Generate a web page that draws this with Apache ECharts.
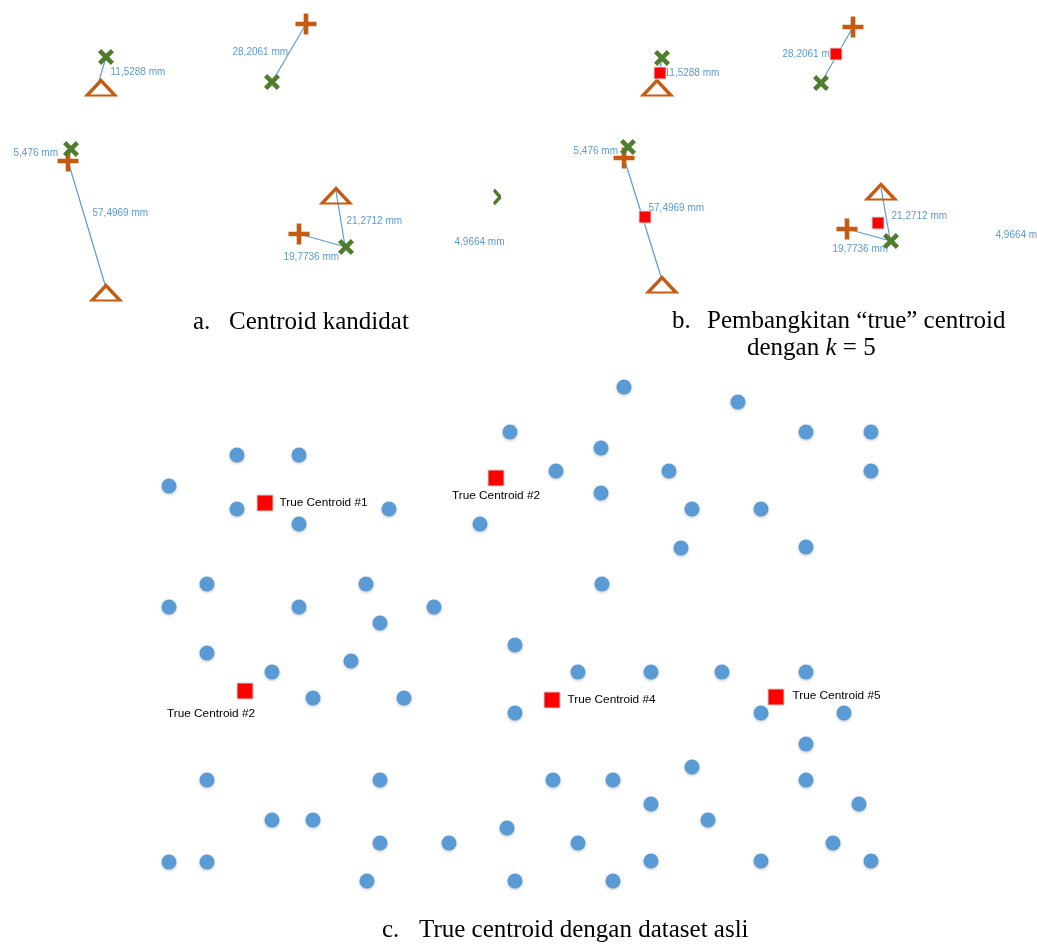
<!DOCTYPE html>
<html>
<head>
<meta charset="utf-8">
<script src="https://cdn.jsdelivr.net/npm/echarts@6/dist/echarts.min.js"></script>
<style>
html,body{margin:0;padding:0;background:#fff;}
#chart{width:1037px;height:951px;}
</style>
</head>
<body>
<div id="chart"></div>
<script>
// ---------- Panel a: candidate centroids ----------
const aCrossX   = [[106,57],[272,82],[71,149],[346,247]];
const aPlus     = [[306,24],[68,161],[299,234]];
const aTriangle = [[101,88],[106,293],[336,196]];
const aHalfX    = [[497,197]];
const aLinks    = [[106,57,99,81],[306,24,272,82],[71,149,68,161],[68,161,106,288],[336,191,345,246],[299,234,346,247]];
const aDistText = ['11,5288 mm','28,2061 mm','5,476 mm','57,4969 mm','21,2712 mm','19,7736 mm','4,9664 mm'];
const aDistAt   = [[110,72],[232,52],[13,153],[92,213],[346,221],[283,257],[454,242]];

// ---------- Panel b: generated "true" centroids (k = 5) ----------
const bCrossX   = [[142,58],[301,83],[108,147],[371,241]];
const bPlus     = [[333,27],[104,158],[327,229]];
const bTriangle = [[137,88],[142,285],[361,192]];
const bTrue     = [[140,73],[316,54],[125,217],[358,223]];
const bLinks    = [[142,58,137,81],[333,27,301,83],[108,147,104,158],[104,158,142,280],[361,188,370,239],[327,229,371,241]];
const bDistText = ['11,5288 mm','28,2061 mm','5,476 mm','57,4969 mm','21,2712 mm','19,7736 mm','4,9664 mm'];
const bDistAt   = [[144,73],[262,54],[53,151],[128,208],[371,216],[312,249],[475,235]];

// ---------- Panel c: true centroids with original dataset ----------
const cDataset = [
  [474,17],[588,32],[360,62],[656,62],[721,62],[451,78],[87,85],[149,85],[406,101],[519,101],
  [721,101],[19,116],[451,123],[87,139],[239,139],[542,139],[611,139],[149,154],[330,154],[531,178],
  [656,177],[57,214],[216,214],[452,214],[19,237],[149,237],[284,237],[230,253],[365,275],[57,283],
  [201,291],[122,302],[428,302],[501,302],[572,302],[656,302],[163,328],[254,328],[365,343],[611,343],
  [694,343],[656,374],[542,397],[57,410],[230,410],[403,410],[463,410],[656,410],[501,434],[709,434],
  [122,450],[163,450],[558,450],[357,458],[230,473],[299,473],[428,473],[683,473],[19,492],[57,492],
  [501,491],[611,491],[721,491],[217,511],[365,511],[463,511]
];
const cTrue      = [[115,133],[346,108],[95,321],[402,330],[626,327]];
const cTrueNames = ['True Centroid #1','True Centroid #2','True Centroid #2','True Centroid #4','True Centroid #5'];

// ---------- captions ----------
const captionA  = ['a.', 'Centroid kandidat'];
const captionB1 = ['b.', 'Pembangkitan \u201ctrue\u201d centroid'];
const captionB2 = 'dengan {i|k} = 5';
const captionC  = ['c.', 'True centroid dengan dataset asli'];

// ---------- styling ----------
const ORANGE = '#C55A11', GREEN = '#4E7D2E', BLUE = '#5B9BD5';
const SYM_X = 'path://M2,0 L5,3 L8,0 L10,2 L7,5 L10,8 L8,10 L5,7 L2,10 L0,8 L3,5 L0,2 Z';
const SYM_PLUS = 'path://M3.9,0 L6.1,0 L6.1,3.9 L10,3.9 L10,6.1 L6.1,6.1 L6.1,10 L3.9,10 L3.9,6.1 L0,6.1 L0,3.9 L3.9,3.9 Z';
const SYM_HALFX = 'path://M0,1.8 L2.2,0 L10,4 L10,6 L2.2,10 L0,8.2 L6,5 Z';

const series = [];
function idx(i){ return {xAxisIndex:i, yAxisIndex:i}; }

function addCandidatePanel(i, crossX, plus, tri, links, texts, at) {
  series.push(Object.assign({
    type:'lines', coordinateSystem:'cartesian2d', z:1, silent:true,
    lineStyle:{color:BLUE, width:1.2, opacity:1, curveness:0},
    data: links.map(s => ({coords:[[s[0],s[1]],[s[2],s[3]]]}))
  }, idx(i)));
  series.push(Object.assign({
    type:'scatter', z:2, silent:true, symbolSize:1,
    itemStyle:{color:'rgba(0,0,0,0)', opacity:1},
    label:{show:true, position:'right', distance:0, color:BLUE, fontSize:10,
           fontFamily:'Liberation Sans, Arial, sans-serif',
           formatter: p => texts[p.dataIndex]},
    data: at
  }, idx(i)));
  series.push(Object.assign({
    type:'scatter', z:3, silent:true, symbol:'triangle', symbolSize:[28,15],
    itemStyle:{color:'rgba(255,255,255,0)', borderColor:ORANGE, borderWidth:3, opacity:1},
    data: tri
  }, idx(i)));
  series.push(Object.assign({
    type:'scatter', z:4, silent:true, symbol:SYM_PLUS, symbolSize:[21,21],
    itemStyle:{color:ORANGE, opacity:1}, data: plus
  }, idx(i)));
  series.push(Object.assign({
    type:'scatter', z:5, silent:true, symbol:SYM_X, symbolSize:[16,16],
    itemStyle:{color:GREEN, opacity:1}, data: crossX
  }, idx(i)));
}

addCandidatePanel(0, aCrossX, aPlus, aTriangle, aLinks, aDistText, aDistAt);
series.push(Object.assign({
  type:'scatter', z:5, silent:true, symbol:SYM_HALFX, symbolSize:[8,17],
  itemStyle:{color:GREEN, opacity:1}, data:aHalfX
}, idx(0)));

addCandidatePanel(1, bCrossX, bPlus, bTriangle, bLinks, bDistText, bDistAt);
series.push(Object.assign({
  type:'scatter', z:6, silent:true, symbol:'rect', symbolSize:12,
  itemStyle:{color:'#FF0000', borderColor:'#d8d8d8', borderWidth:1, opacity:1}, data:bTrue
}, idx(1)));

series.push(Object.assign({
  type:'scatter', z:2, silent:true, symbol:'circle', symbolSize:15,
  itemStyle:{color:BLUE, opacity:1, shadowBlur:3, shadowColor:'rgba(0,0,0,0.25)', shadowOffsetY:1},
  data:cDataset
}, idx(2)));

const cLabelPlacement = [
  {position:'right', distance:6},
  {position:'bottom', distance:3},
  {position:'bottom', distance:8, offset:[-34,0]},
  {position:'right', distance:7},
  {position:'right', distance:8, offset:[0,-1]}
];
series.push(Object.assign({
  type:'scatter', z:3, silent:true, symbol:'rect', symbolSize:16,
  itemStyle:{color:'#FF0000', borderColor:'#cfcfcf', borderWidth:1, opacity:1},
  label:{show:true, color:'#000', fontSize:11.8, fontFamily:'Liberation Sans, Arial, sans-serif'},
  data: cTrue.map((v,k) => ({value:v, name:cTrueNames[k],
        label: Object.assign({formatter:cTrueNames[k]}, cLabelPlacement[k])}))
}, idx(2)));

const serif = '"Liberation Serif", "Times New Roman", serif';
function capText(x, y, text, extra) {
  return {type:'text', x:x, y:y, silent:true,
    style:Object.assign({text:text, fill:'#000', fontSize:25, fontFamily:serif, verticalAlign:'middle', align:'left'}, extra||{})};
}

const option = {
  animation:false,
  backgroundColor:'#fff',
  grid:[
    {left:0,   top:0,   width:501, height:305},
    {left:520, top:0,   width:517, height:305},
    {left:150, top:370, width:740, height:525}
  ],
  xAxis:[
    {type:'value', gridIndex:0, min:0, max:501, show:false},
    {type:'value', gridIndex:1, min:0, max:517, show:false},
    {type:'value', gridIndex:2, min:0, max:740, show:false}
  ],
  yAxis:[
    {type:'value', gridIndex:0, min:0, max:305, inverse:true, show:false},
    {type:'value', gridIndex:1, min:0, max:305, inverse:true, show:false},
    {type:'value', gridIndex:2, min:0, max:525, inverse:true, show:false}
  ],
  series: series,
  graphic:[
    capText(193, 322, captionA[0]), capText(229, 322, captionA[1]),
    capText(672, 321, captionB1[0]), capText(707, 321, captionB1[1]),
    capText(747, 348, captionB2, {rich:{i:{fontStyle:'italic', fontSize:25, fontFamily:serif}}}),
    capText(382, 930, captionC[0]), capText(419, 930, captionC[1])
  ]
};

const chart = echarts.init(document.getElementById('chart'), null, {renderer:'canvas'});
chart.setOption(option);
</script>
</body>
</html>
